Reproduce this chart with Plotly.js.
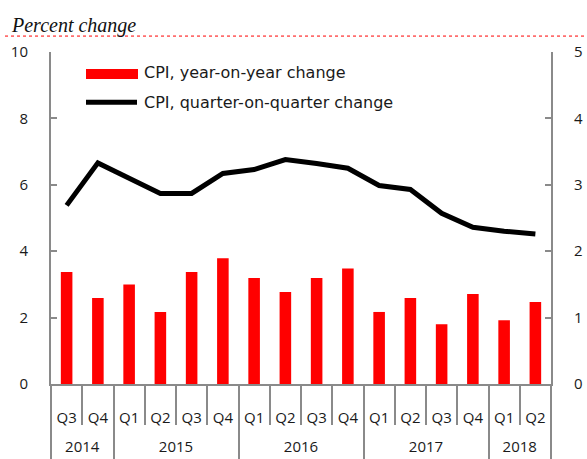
<!DOCTYPE html>
<html>
<head>
<meta charset="utf-8">
<script src="https://cdn.plot.ly/plotly-3.0.1.min.js"></script>
<style>html,body{margin:0;padding:0;background:#fff}#chart{width:587px;height:459px}</style>
</head>
<body>
<div id="chart"></div>
<script>
const years = ['2014','2014','2015','2015','2015','2015','2016','2016','2016','2016','2017','2017','2017','2017','2018','2018'];
const quarters = ['Q3','Q4','Q1','Q2','Q3','Q4','Q1','Q2','Q3','Q4','Q1','Q2','Q3','Q4','Q1','Q2'];
const yoy = [3.37, 2.59, 3.0, 2.17, 3.37, 3.79, 3.19, 2.77, 3.19, 3.48, 2.17, 2.59, 1.80, 2.71, 1.92, 2.47];
const qoq = [2.69, 3.33, 3.10, 2.87, 2.87, 3.17, 3.23, 3.38, 3.32, 3.25, 2.99, 2.93, 2.57, 2.36, 2.30, 2.26];
const seriesNames = ['CPI, year-on-year change', 'CPI, quarter-on-quarter change'];

// unique category keys, shown as quarter labels
const cats = years.map((y, i) => y + ' ' + quarters[i]);
const idx = quarters.map((q, i) => i);
// year groups: label centres and boundaries (in category-index units)
const yearLabels = [], yearCenters = [], yearBounds = [-0.5];
years.forEach((y, i) => {
  if (i === 0 || y !== years[i - 1]) {
    if (i > 0) yearBounds.push(i - 0.5);
    yearLabels.push(y);
    const last = years.lastIndexOf(y);
    yearCenters.push((i + last) / 2);
  }
});
yearBounds.push(years.length - 0.5);

const axisColor = '#8a8a8a';
const tickFont = {family: 'Open Sans, sans-serif', size: 15, color: '#1a1a1a'};
const legendFont = {family: 'DejaVu Sans, sans-serif', size: 16, color: '#1a1a1a'};

const traces = [
  {type: 'bar', x: cats, y: yoy, name: seriesNames[0],
   marker: {color: '#ff0000', line: {width: 0}}, width: 0.37},
  {type: 'scatter', mode: 'lines', x: idx, y: qoq, xaxis: 'x2', yaxis: 'y2',
   name: seriesNames[1], line: {color: '#000000', width: 5}}
];

const layout = {
  width: 587, height: 459,
  margin: {l: 51, r: 36, t: 52, b: 75},
  paper_bgcolor: '#ffffff', plot_bgcolor: '#ffffff',
  showlegend: false,
  xaxis: {type: 'category', range: [-0.5, years.length - 0.5],
          tickmode: 'array', tickvals: cats, ticktext: quarters,
          showline: true, linecolor: axisColor, linewidth: 2,
          ticks: 'outside', tickson: 'boundaries', ticklen: 39, tickcolor: axisColor, tickwidth: 2,
          ticklabelstandoff: 19,
          tickfont: tickFont, showgrid: false, zeroline: false},
  xaxis2: {overlaying: 'x', anchor: 'y', side: 'bottom', type: 'linear',
           range: [-0.5, years.length - 0.5], tickmode: 'array',
           tickvals: yearCenters, ticktext: yearLabels,
           ticks: 'outside', ticklen: 1, tickcolor: 'rgba(0,0,0,0)', tickwidth: 1,
           minor: {tickmode: 'array', tickvals: yearBounds, ticks: 'outside', ticklen: 75,
                   tickcolor: axisColor, tickwidth: 2, showgrid: false},
           ticklabelstandoff: 48,
           showline: false, showgrid: false, zeroline: false, tickfont: tickFont},
  yaxis: {range: [0, 10], dtick: 2, showline: true, linecolor: axisColor, linewidth: 2,
          ticks: 'inside', ticklen: 6, tickcolor: axisColor, tickwidth: 2,
          showgrid: false, zeroline: false, tickfont: tickFont, ticklabelstandoff: 18},
  yaxis2: {range: [0, 5], dtick: 1, overlaying: 'y', side: 'right', showline: true,
           linecolor: axisColor, linewidth: 2, ticks: 'inside', ticklen: 6, tickcolor: axisColor,
           tickwidth: 2, showgrid: false, zeroline: false, tickfont: tickFont, ticklabelstandoff: 18},
  shapes: [
    {type: 'line', xref: 'paper', yref: 'paper', x0: -0.092, x1: 1.08, y0: 1.048, y1: 1.048,
     line: {color: '#ff0000', width: 1, dash: 'dot'}},
    // legend keys
    {type: 'rect', xref: 'paper', yref: 'paper', x0: 0.07, x1: 0.174, y0: 0.919, y1: 0.949,
     fillcolor: '#ff0000', line: {width: 0}},
    {type: 'line', xref: 'paper', yref: 'paper', x0: 0.07, x1: 0.172, y0: 0.849, y1: 0.849,
     line: {color: '#000000', width: 5}}
  ],
  annotations: [
    {text: 'Percent change', xref: 'paper', yref: 'paper', x: -0.084, y: 1.040,
     xanchor: 'left', yanchor: 'bottom', showarrow: false,
     font: {family: 'Liberation Serif, serif', size: 20, color: '#111111', style: 'italic'}},
    {text: seriesNames[0], xref: 'paper', yref: 'paper', x: 0.182, y: 0.937,
     xanchor: 'left', yanchor: 'middle', showarrow: false, font: legendFont},
    {text: seriesNames[1], xref: 'paper', yref: 'paper', x: 0.182, y: 0.849,
     xanchor: 'left', yanchor: 'middle', showarrow: false, font: legendFont}
  ]
};

Plotly.newPlot('chart', traces, layout, {displayModeBar: false, staticPlot: true});
</script>
</body>
</html>
